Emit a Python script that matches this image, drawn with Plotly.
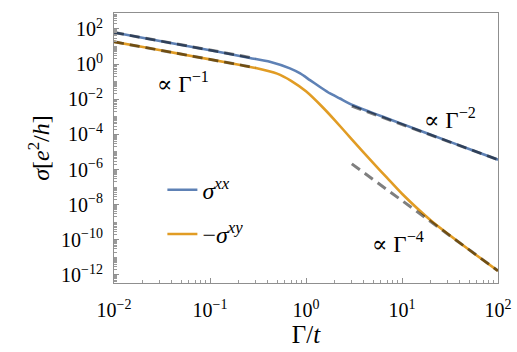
import plotly.graph_objects as go

# sigma^xx (blue): Gamma/t positions and values
gamma_xx = [0.01, 0.03, 0.1, 0.16, 0.26, 0.42, 0.68, 0.87, 1.1, 1.4, 1.78, 2.26,
            3.09, 4.64, 6.34, 10, 20, 50, 100]
sigma_xx = [63.1, 20.9, 6.17, 3.80, 2.24, 1.38, 0.575, 0.295, 0.123, 0.0501, 0.0214, 0.0110,
            4.57e-3, 1.91e-3, 1.00e-3, 3.98e-4, 9.55e-5, 1.48e-5, 3.63e-6]

# -sigma^xy (orange)
gamma_xy = [0.01, 0.02, 0.05, 0.1, 0.2, 0.3, 0.5, 0.7, 1, 1.5, 2, 3, 5, 7, 10, 20, 50, 100]
sigma_xy = [18.6, 9.33, 3.72, 1.86, 0.912, 0.603, 0.288, 0.112, 0.0282, 3.39e-3, 6.31e-4,
            5.25e-5, 2.40e-6, 3.31e-7, 4.17e-8, 1.26e-9, 2.69e-11, 1.70e-12]

# asymptotes (dashed)
asym_small_x = [0.01, 0.3]
asym_xx_small = [63.1, 2.10]
asym_xy_small = [18.6, 0.62]
asym_large_x = [3, 100]
asym_xx_large = [4.03e-3, 3.63e-6]
asym_xy_large = [2.10e-6, 1.70e-12]

x_ticks = [0.01, 0.1, 1, 10, 100]
x_ticktext = ["10<sup>−2</sup>", "10<sup>−1</sup>", "10<sup>0</sup>", "10<sup>1</sup>", "10<sup>2</sup>"]
y_ticks = [1e-12, 1e-10, 1e-8, 1e-6, 1e-4, 1e-2, 1, 1e2]
y_ticktext = ["10<sup>−12</sup>", "10<sup>−10</sup>", "10<sup>−8</sup>", "10<sup>−6</sup>",
              "10<sup>−4</sup>", "10<sup>−2</sup>", "10<sup>0</sup>", "10<sup>2</sup>"]

BLUE = "#5E81B5"
ORANGE = "#E19C24"
SERIF = "Liberation Serif, DejaVu Serif, serif"
dash_style = dict(color="rgba(0,0,0,0.5)", width=3, dash="10px,6px")

fig = go.Figure()
fig.add_trace(go.Scatter(x=gamma_xx, y=sigma_xx, mode="lines",
                         line=dict(color=BLUE, width=2.6, shape="spline", smoothing=0.6),
                         name="<i>σ</i><sup><i>xx</i></sup>", legendgroup="a"))
fig.add_trace(go.Scatter(x=gamma_xy, y=sigma_xy, mode="lines",
                         line=dict(color=ORANGE, width=2.6, shape="spline", smoothing=0.6),
                         name="−<i>σ</i><sup><i>xy</i></sup>", legendgroup="b"))
for xs, ys in [(asym_small_x, asym_xx_small), (asym_small_x, asym_xy_small),
               (asym_large_x, asym_xx_large), (asym_large_x, asym_xy_large)]:
    fig.add_trace(go.Scatter(x=xs, y=ys, mode="lines", line=dash_style, showlegend=False, hoverinfo="skip"))

axis_common = dict(
    type="log", showgrid=False, zeroline=False, automargin=False,
    showline=True, linecolor="#8f8f8f", linewidth=1.2, mirror=True,
    ticks="inside", ticklen=5, tickcolor="#8f8f8f", tickmode="array",
    tickfont=dict(family=SERIF, size=20, color="black"),
    minor=dict(ticks="inside", ticklen=3, tickcolor="#9a9a9a", dtick="D1", showgrid=False),
)

fig.update_xaxes(**axis_common, range=[-2, 2], tickvals=x_ticks, ticktext=x_ticktext, ticklabelstandoff=9,
                 title=dict(text="Γ/<i>t</i>", font=dict(family=SERIF, size=25, color="black"), standoff=5))
fig.update_yaxes(**axis_common, range=[-12.46, 2.91], tickvals=y_ticks, ticktext=y_ticktext, ticklabelstandoff=6,
                 title=dict(text="<i>σ</i>[<i>e</i><sup>2</sup>/<i>h</i>]", font=dict(family=SERIF, size=24, color="black"),
                            standoff=4))

ann_font = dict(family=SERIF, size=23, color="black")
fig.add_annotation(x=-1.28, y=-1.05, xref="x", yref="y", text="∝ Γ<sup>−1</sup>", showarrow=False, font=ann_font)
fig.add_annotation(x=1.5, y=-3.1, xref="x", yref="y", text="∝ Γ<sup>−2</sup>", showarrow=False, font=ann_font)
fig.add_annotation(x=0.96, y=-10.15, xref="x", yref="y", text="∝ Γ<sup>−4</sup>", showarrow=False, font=ann_font)

fig.update_layout(
    width=517, height=352,
    margin=dict(l=114, r=19, t=13, b=69),
    paper_bgcolor="white", plot_bgcolor="white",
    legend=dict(x=0.126, y=0.427, xanchor="left", yanchor="top", bgcolor="rgba(0,0,0,0)",
                font=dict(family=SERIF, size=24, color="black"), tracegroupgap=10, itemwidth=30),
)

fig.write_html("out.html", config={"displayModeBar": False},
               post_script="document.body.style.margin='0px';document.body.style.overflow='hidden';")
